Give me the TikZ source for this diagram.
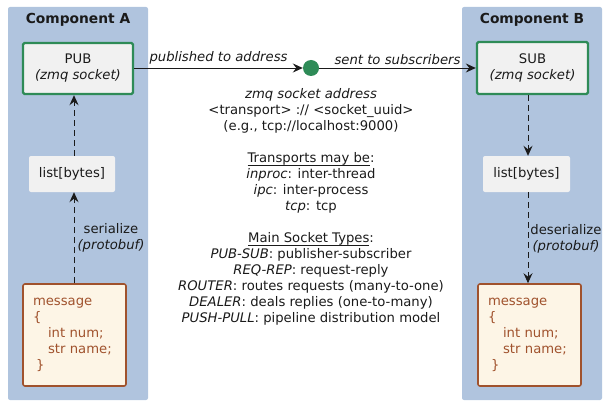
\documentclass[tikz,border=0pt]{standalone}
\usepackage{fontspec}
\setmainfont{DejaVu Sans}
\usetikzlibrary{arrows.meta}
\definecolor{compfill}{HTML}{B0C4DE}
\definecolor{sockgreen}{HTML}{2E8B57}
\definecolor{sockfill}{HTML}{F1F1F1}
\definecolor{msgfill}{HTML}{FDF5E6}
\definecolor{msgdraw}{HTML}{A0522D}
\definecolor{txt}{HTML}{1A1A1A}
\newcommand\myul[1]{\setbox0=\hbox{#1}\rlap{\rule[-2.6pt]{\wd0}{0.7pt}}\box0}
\begin{document}
\begin{tikzpicture}[x=1pt,y=-1pt,
  every node/.style={font=\fontsize{13.2}{16}\selectfont, text=txt},
  comp/.style={fill=compfill, draw=none, rounded corners=2pt},
  title/.style={font=\fontsize{13.8}{16}\selectfont\bfseries},
  sock/.style={draw=sockgreen, line width=2.4pt, fill=sockfill, rounded corners=1.5pt, align=center, inner sep=0pt},
  bytes/.style={fill=sockfill, draw=none, rounded corners=2pt, inner sep=0pt},
  msg/.style={draw=msgdraw, line width=1.6pt, fill=msgfill, rounded corners=2pt, align=left, inner sep=0pt, text=msgdraw},
  tip/.style={-{Stealth[length=10pt,width=9pt,inset=3.5pt]}},
  flow/.style={draw=txt, line width=0.9pt, dash pattern=on 6pt off 4pt, tip},
  solidflow/.style={draw=txt, line width=0.9pt, tip},
  lbl/.style={align=center, inner sep=0pt}
]
\useasboundingbox (0,0) rectangle (609,406);
% containers
\fill[comp] (8,7) rectangle (148,400);
\fill[comp] (462,7) rectangle (602,400);
\node[title] (ta) at (78,20) {Component A};
\node[title] (tb) at (532,20) {Component B};
% left
\node[sock, minimum width=110pt, minimum height=51pt] (pub) at (78,68.5) {PUB\\\textit{(zmq socket)}};
\node[bytes, minimum width=86pt, minimum height=36pt] (llist) at (72,174) {list[bytes]};
\node[msg, minimum width=103pt, minimum height=102pt, text width=83pt] (lmsg) at (74.5,335)
  {message\\\{\\\hspace*{15pt}int num;\\\hspace*{15pt}str name;\\\hspace*{3pt}\}};
% right
\node[sock, minimum width=111pt, minimum height=52pt] (sub) at (532.5,68) {SUB\\\textit{(zmq socket)}};
\node[bytes, minimum width=87pt, minimum height=36pt] (rlist) at (526.5,174) {list[bytes]};
\node[msg, minimum width=103pt, minimum height=102pt, text width=83pt] (rmsg) at (529.5,335)
  {message\\\{\\\hspace*{15pt}int num;\\\hspace*{15pt}str name;\\\hspace*{3pt}\}};
% address point
\node[circle, fill=sockgreen, draw=none, minimum size=16pt, inner sep=0pt] (addr) at (311,68) {};
% connectors
\draw[solidflow] (pub.east |- addr) -- node[above=3pt, lbl, font=\fontsize{13.2}{16}\selectfont\itshape]{published to address} (addr.west);
\draw[solidflow] (addr.east) -- node[above=3pt, lbl, font=\fontsize{13.2}{16}\selectfont\itshape]{sent to subscribers} (sub.west |- addr);
\coordinate (lx) at (74,0);
\coordinate (rx) at (528,0);
\draw[flow] (lx |- lmsg.north) -- (lx |- llist.south);
\draw[flow] (lx |- llist.north) -- (lx |- pub.south);
\draw[flow] (rx |- sub.south) -- (rx |- rlist.north);
\draw[flow] (rx |- rlist.south) -- (rx |- rmsg.north);
\node[lbl] (ser) at (111,238) {serialize\\\textit{(protobuf)}};
\node[lbl] (deser) at (566,239) {deserialize\\\textit{(protobuf)}};
% central note
\node[lbl] (note) at (311,207) {\textit{zmq socket address}\\
  <transport> :// <socket\_uuid>\\
  (e.g., tcp://localhost:9000)\\[16pt]
  \myul{Transports may be}:\\
  \textit{inproc}: inter-thread\\
  \textit{ipc}: inter-process\\
  \textit{tcp}: tcp\\[16pt]
  \myul{Main Socket Types}:\\
  \textit{PUB-SUB}: publisher-subscriber\\
  \textit{REQ-REP}: request-reply\\
  \textit{ROUTER}: routes requests (many-to-one)\\
  \textit{DEALER}: deals replies (one-to-many)\\
  \textit{PUSH-PULL}: pipeline distribution model};
\end{tikzpicture}
\end{document}
